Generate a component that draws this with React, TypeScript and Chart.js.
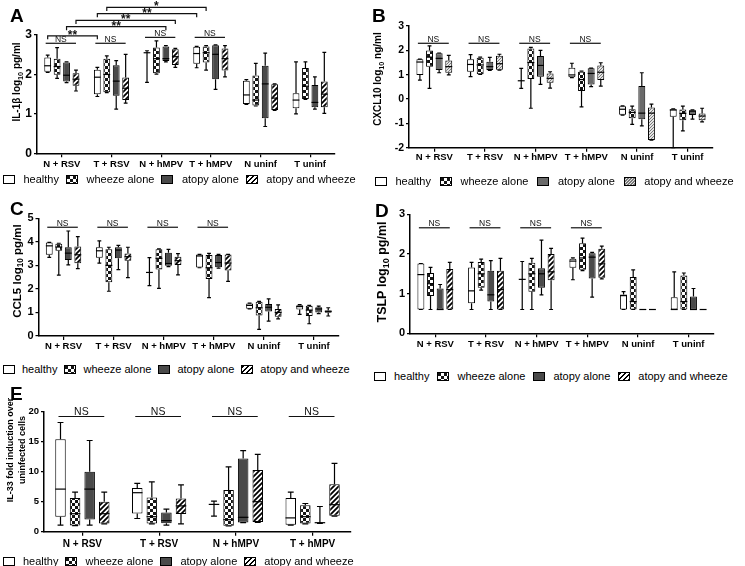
import React, { useEffect, useRef } from 'react';
import { Chart, registerables } from 'chart.js';
Chart.register(...registerables);

const FONT = "'Liberation Sans', Arial, Helvetica, sans-serif";
Chart.defaults.color = '#000';
Chart.defaults.font.family = FONT;

// ---------- categories / groups ----------
const groups = ['healthy', 'wheeze alone', 'atopy alone', 'atopy and wheeze'];
const catsSix = ['N + RSV', 'T + RSV', 'N + hMPV', 'T + hMPV', 'N uninf', 'T uninf'];
const catsFour = ['N + RSV', 'T + RSV', 'N + hMPV', 'T + hMPV'];

// each entry: [min, q1, median, q3, max]
// ---------- A: IL-1β ----------
const il1b_healthy = [[2.05, 2.07, 2.22, 2.43, 2.49], [1.44, 1.5, 1.93, 2.12, 2.18], [1.8, 2.55, 2.55, 2.55, 2.6], [2.17, 2.27, 2.53, 2.7, 2.71], [1.24, 1.25, 1.48, 1.84, 1.87], [1.0, 1.14, 1.35, 1.52, 2.32]];
const il1b_wheeze = [[1.9, 1.99, 2.2, 2.4, 2.68], [1.54, 1.55, 2.0, 2.4, 2.47], [2.01, 2.03, 2.4, 2.68, 2.85], [2.11, 2.3, 2.55, 2.71, 2.73], [1.2, 1.21, 1.35, 1.97, 2.28], [1.37, 1.38, 1.7, 2.16, 2.32]];
const il1b_atopy = [[1.79, 1.82, 1.98, 2.3, 2.32], [1.12, 1.46, 1.83, 2.23, 2.35], [2.32, 2.34, 2.4, 2.71, 2.73], [1.62, 1.88, 2.51, 2.74, 2.75], [0.68, 0.89, 1.76, 2.22, 2.54], [1.12, 1.17, 1.29, 1.73, 1.94]];
const il1b_aw = [[1.58, 1.71, 1.88, 2.03, 2.11], [1.27, 1.35, 1.65, 1.92, 2.51], [2.18, 2.24, 2.45, 2.64, 2.66], [1.94, 2.1, 2.4, 2.66, 2.73], [1.09, 1.1, 1.4, 1.75, 1.76], [1.01, 1.17, 1.5, 1.82, 2.56]];
const il1b_ns = [{ cat: 0, y: 2.79 }, { cat: 1, y: 2.79 }, { cat: 2, y: 2.94 }, { cat: 3, y: 2.94 }];
// [category, group] -> [category, group]
const il1b_brackets = [
  { a: [0, 0], b: [1, 0], y: 2.98, t: '**' },
  { a: [0, 2], b: [2, 2], y: 3.21, t: '**' },
  { a: [0, 3], b: [2, 3], y: 3.37, t: '**' },
  { a: [1, 0], b: [3, 0], y: 3.54, t: '**' },
  { a: [1, 1], b: [3, 1], y: 3.7, t: '*' },
];

// ---------- B: CXCL10 ----------
const cxcl_healthy = [[0.78, 0.99, 1.52, 1.63, 1.64], [0.92, 1.12, 1.42, 1.63, 1.82], [0.44, 0.75, 0.75, 0.75, 1.26], [0.88, 0.89, 0.99, 1.28, 1.47], [-0.66, -0.65, -0.42, -0.3, -0.28], [-2.0, -0.73, -0.45, -0.42, -0.4]];
const cxcl_wheeze = [[0.44, 1.33, 1.72, 1.99, 2.18], [1.01, 1.02, 1.4, 1.7, 1.72], [-0.38, 0.82, 1.5, 2.08, 2.12], [-0.32, 0.33, 0.8, 1.12, 1.15], [-1.04, -0.79, -0.55, -0.42, -0.29], [-1.31, -0.87, -0.59, -0.43, -0.29]];
const cxcl_atopy = [[1.08, 1.19, 1.67, 1.88, 1.89], [1.18, 1.19, 1.33, 1.53, 1.71], [0.6, 0.92, 1.38, 1.77, 2.0], [0.51, 0.6, 1.05, 1.26, 1.27], [-1.1, -0.83, -0.58, 0.53, 1.08], [-0.83, -0.66, -0.5, -0.46, -0.45]];
const cxcl_aw = [[0.99, 1.08, 1.33, 1.58, 1.79], [1.19, 1.2, 1.45, 1.78, 1.84], [0.45, 0.67, 0.85, 1.05, 1.12], [0.53, 0.78, 1.1, 1.38, 1.49], [-1.69, -1.68, -0.58, -0.35, -0.21], [-0.94, -0.87, -0.7, -0.59, -0.38]];
const cxcl_ns = [{ cat: 0, y: 2.29 }, { cat: 1, y: 2.29 }, { cat: 2, y: 2.29 }, { cat: 3, y: 2.29 }];

// ---------- C: CCL5 ----------
const ccl5_healthy = [[3.34, 3.45, 3.83, 3.97, 3.98], [3.1, 3.32, 3.62, 3.77, 4.04], [2.14, 2.7, 2.7, 2.7, 3.33], [2.9, 2.91, 3.4, 3.46, 3.47], [1.15, 1.16, 1.3, 1.38, 1.4], [0.92, 1.13, 1.25, 1.31, 1.33]];
const ccl5_wheeze = [[2.59, 3.62, 3.78, 3.92, 3.94], [1.9, 2.28, 3.0, 3.68, 3.77], [2.02, 2.83, 3.3, 3.68, 3.7], [1.63, 2.42, 2.9, 3.44, 3.51], [0.28, 0.87, 1.2, 1.45, 1.47], [0.52, 0.85, 1.1, 1.28, 1.3]];
const ccl5_atopy = [[3.02, 3.23, 3.52, 3.77, 4.46], [2.82, 3.3, 3.65, 3.77, 3.85], [2.95, 2.98, 3.08, 3.54, 3.68], [2.88, 2.92, 3.12, 3.44, 3.47], [0.63, 1.04, 1.22, 1.36, 1.58], [0.95, 1.0, 1.15, 1.22, 1.27]];
const ccl5_aw = [[2.86, 3.09, 3.45, 3.8, 4.22], [2.48, 3.2, 3.37, 3.5, 3.77], [2.6, 3.02, 3.2, 3.37, 3.5], [2.32, 2.78, 3.1, 3.46, 3.47], [0.73, 0.82, 1.0, 1.15, 1.32], [0.85, 0.99, 1.05, 1.08, 1.2]];
const ccl5_ns = [{ cat: 0, y: 4.62 }, { cat: 1, y: 4.62 }, { cat: 2, y: 4.62 }, { cat: 3, y: 4.62 }];

// ---------- D: TSLP ----------
const tslp_healthy = [[0.6, 0.6, 1.48, 1.76, 1.76], [0.6, 0.76, 1.07, 1.66, 1.79], [0.6, 1.36, 1.36, 1.36, 1.81], [1.35, 1.65, 1.82, 1.88, 1.9], [0.6, 0.6, 0.95, 0.98, 1.05], [0.6, 0.6, 0.6, 0.91, 1.55]];
const tslp_wheeze = [[0.6, 0.94, 1.25, 1.52, 1.66], [1.09, 1.15, 1.5, 1.8, 1.87], [0.6, 1.05, 1.5, 1.78, 1.89], [1.58, 1.6, 1.9, 2.27, 2.4], [0.6, 0.6, 0.8, 1.42, 1.6], [0.6, 0.6, 0.8, 1.46, 1.52]];
const tslp_atopy = [[0.6, 0.6, 0.6, 1.13, 1.23], [0.6, 0.8, 0.97, 1.58, 1.83], [0.97, 1.15, 1.5, 1.64, 2.35], [0.91, 1.38, 1.92, 2.02, 2.04], [0.6, 0.6, 0.6, 0.6, 0.6], [0.6, 0.6, 0.6, 0.93, 1.13]];
const tslp_aw = [[0.6, 0.6, 1.1, 1.62, 1.79], [0.6, 0.6, 1.1, 1.58, 1.89], [0.6, 1.34, 1.55, 2.0, 2.14], [1.37, 1.4, 1.75, 2.13, 2.2], [0.6, 0.6, 0.6, 0.6, 0.6], [0.6, 0.6, 0.6, 0.6, 0.6]];
const tslp_ns = [{ cat: 0, y: 2.66 }, { cat: 1, y: 2.66 }, { cat: 2, y: 2.66 }, { cat: 3, y: 2.66 }];

// ---------- E: IL-33 ----------
const il33_healthy = [[1.1, 2.5, 7.1, 15.4, 18.2], [2.2, 3.05, 6.5, 7.3, 8.05], [2.6, 4.55, 4.55, 4.6, 5.1], [1.1, 1.15, 2.3, 5.6, 6.6]];
const il33_wheeze = [[1.0, 1.05, 3.0, 5.6, 6.6], [1.3, 1.35, 2.5, 5.7, 8.3], [0.95, 1.0, 2.0, 6.95, 10.8], [1.3, 1.35, 2.5, 4.4, 4.7]];
const il33_atopy = [[1.1, 2.05, 7.1, 10.0, 15.2], [1.1, 1.4, 1.85, 3.2, 3.75], [1.5, 1.55, 2.4, 12.2, 13.5], [1.4, 1.45, 1.5, 1.5, 4.2]];
const il33_aw = [[1.3, 1.35, 3.0, 5.0, 6.6], [1.3, 2.95, 4.3, 5.55, 7.8], [1.55, 1.6, 5.0, 10.3, 12.9], [2.6, 2.65, 4.5, 7.9, 11.4]];
const il33_ns = [{ cat: 0, y: 19.2 }, { cat: 1, y: 19.2 }, { cat: 2, y: 19.2 }, { cat: 3, y: 19.2 }];

// ---------- layout ----------
const XH = 26; // x-axis box height

type Part = { t: string; sub?: boolean };
interface Panel {
  key: string;
  letter: string;
  letterPos: [number, number];
  cats: string[];
  series: number[][][];
  yMin: number; yMax: number; yStep: number;
  ns: { cat: number; y: number }[];
  nsFont: number;
  brackets: { a: number[]; b: number[]; y: number; t: string }[];
  title: { lines: Part[][]; cx: number[]; cy: number; size: number };
  box: { x0: number; y0: number; w: number; left: number; top: number; right: number; bottom: number };
  legend: { x: number; y: number; gap1: number; gap2: number };
  yFont: number; xFont: number; xPad: number;
  light: boolean;
}

const panels: Panel[] = [
  {
    key: 'A', letter: 'A', letterPos: [10, 8.3], cats: catsSix,
    series: [il1b_healthy, il1b_wheeze, il1b_atopy, il1b_aw], yMin: 0, yMax: 3, yStep: 1,
    ns: il1b_ns, nsFont: 8.5, brackets: il1b_brackets,
    title: { lines: [[{ t: 'IL-1β log' }, { t: '10', sub: true }, { t: ' pg/ml' }]], cx: [17.5], cy: 82, size: 10 },
    box: { x0: 0, y0: 0, w: 370, left: 37, top: 35, right: 335, bottom: 153.3 },
    legend: { x: 3, y: 179, gap1: 8.5, gap2: 7 },
    yFont: 12, xFont: 9.5, xPad: 1, light: false,
  },
  {
    key: 'B', letter: 'B', letterPos: [372, 8.3], cats: catsSix,
    series: [cxcl_healthy, cxcl_wheeze, cxcl_atopy, cxcl_aw], yMin: -2, yMax: 3, yStep: 1,
    ns: cxcl_ns, nsFont: 8.5, brackets: [],
    title: { lines: [[{ t: 'CXCL10 log' }, { t: '10', sub: true }, { t: ' ng/ml' }]], cx: [378.5], cy: 79, size: 10 },
    box: { x0: 370, y0: 0, w: 375, left: 409, top: 26, right: 713, bottom: 147.7 },
    legend: { x: 375, y: 181, gap1: 8.5, gap2: 9 },
    yFont: 10.5, xFont: 9.5, xPad: 0, light: true,
  },
  {
    key: 'C', letter: 'C', letterPos: [10, 201.7], cats: catsSix,
    series: [ccl5_healthy, ccl5_wheeze, ccl5_atopy, ccl5_aw], yMin: 0, yMax: 5, yStep: 1,
    ns: ccl5_ns, nsFont: 8.5, brackets: [],
    title: { lines: [[{ t: 'CCL5 log' }, { t: '10', sub: true }, { t: ' pg/ml' }]], cx: [17.5], cy: 271, size: 11.5 },
    box: { x0: 0, y0: 190, w: 370, left: 38.5, top: 218.3, right: 339, bottom: 336 },
    legend: { x: 3, y: 369, gap1: 7, gap2: 7 },
    yFont: 11, xFont: 9.5, xPad: 1, light: false,
  },
  {
    key: 'D', letter: 'D', letterPos: [375, 203.3], cats: catsSix,
    series: [tslp_healthy, tslp_wheeze, tslp_atopy, tslp_aw], yMin: 0, yMax: 3, yStep: 1,
    ns: tslp_ns, nsFont: 8.5, brackets: [],
    title: { lines: [[{ t: 'TSLP log' }, { t: '10', sub: true }, { t: ' pg/ml' }]], cx: [383], cy: 272, size: 12.5 },
    box: { x0: 370, y0: 190, w: 375, left: 410, top: 214.3, right: 714, bottom: 333.3 },
    legend: { x: 374, y: 376, gap1: 8, gap2: 8 },
    yFont: 11, xFont: 9.5, xPad: 1, light: false,
  },
  {
    key: 'E', letter: 'E', letterPos: [10, 386.7], cats: catsFour,
    series: [il33_healthy, il33_wheeze, il33_atopy, il33_aw], yMin: 0, yMax: 20, yStep: 5,
    ns: il33_ns, nsFont: 10.5, brackets: [],
    title: { lines: [[{ t: 'IL-33 fold induction over' }], [{ t: 'uninfected cells' }]], cx: [11, 22.5], cy: 450, size: 9 },
    box: { x0: 0, y0: 380, w: 370, left: 44, top: 411.7, right: 351, bottom: 531.7 },
    legend: { x: 3, y: 561, gap1: 8, gap2: 7 },
    yFont: 9.5, xFont: 10, xPad: 3, light: false,
  },
];

// ---------- fills ----------
function makeChecker(): any {
  const c = document.createElement('canvas');
  c.width = 6; c.height = 6;
  const g = c.getContext('2d')!;
  g.fillStyle = '#151515'; g.fillRect(0, 0, 6, 6);
  g.fillStyle = '#ffffff'; g.fillRect(0, 0, 3, 3); g.fillRect(3, 3, 3, 3);
  return g.createPattern(c, 'repeat');
}
function makeHatch(size: number, lw: number, fg: string, bg: string): any {
  const c = document.createElement('canvas');
  c.width = size; c.height = size;
  const g = c.getContext('2d')!;
  g.fillStyle = bg; g.fillRect(0, 0, size, size);
  g.strokeStyle = fg; g.lineWidth = lw;
  g.beginPath();
  g.moveTo(-1, size + 1); g.lineTo(size + 1, -1);
  g.moveTo(-2, 2); g.lineTo(2, -2);
  g.moveTo(size - 2, size + 2); g.lineTo(size + 2, size - 2);
  g.stroke();
  return g.createPattern(c, 'repeat');
}
const cssFills = {
  std: [
    '#ffffff',
    'repeating-conic-gradient(#ffffff 0% 25%, #151515 0% 50%) 0 0 / 6px 6px',
    '#4a4a4a',
    'repeating-linear-gradient(135deg, #000 0 1.8px, #fff 1.8px 3.55px)',
  ],
  light: [
    '#ffffff',
    'repeating-conic-gradient(#ffffff 0% 25%, #151515 0% 50%) 0 0 / 6px 6px',
    '#6a6a6a',
    'repeating-linear-gradient(135deg, #7a7a7a 0 1px, #e4e4e4 1px 2.12px)',
  ],
};

// ---------- plugins ----------
const boxPlugin = {
  id: 'boxWhisker',
  afterDatasetsDraw(chart: any) {
    const ctx = chart.ctx;
    const ys = chart.scales.y;
    chart.data.datasets.forEach((ds: any, di: number) => {
      const meta = chart.getDatasetMeta(di);
      meta.data.forEach((bar: any, i: number) => {
        const s = ds.stats[i];
        if (!s) return;
        const { x, width } = bar.getProps(['x', 'width'], true);
        const [mn, q1, md, q3, mx] = s.map((v: number) => ys.getPixelForValue(v));
        const cw = width * 0.28;
        ctx.save();
        ctx.strokeStyle = '#000';
        ctx.lineWidth = 1.2;
        ctx.beginPath();
        ctx.moveTo(x, q1); ctx.lineTo(x, mn);
        ctx.moveTo(x, q3); ctx.lineTo(x, mx);
        ctx.moveTo(x - cw, mn); ctx.lineTo(x + cw, mn);
        ctx.moveTo(x - cw, mx); ctx.lineTo(x + cw, mx);
        ctx.stroke();
        ctx.beginPath();
        ctx.moveTo(x - width / 2, md); ctx.lineTo(x + width / 2, md);
        ctx.stroke();
        ctx.restore();
      });
    });
  },
};

function makeSigPlugin(p: Panel) {
  return {
    id: 'sig' + p.key,
    afterDraw(chart: any) {
      const ctx = chart.ctx;
      const ys = chart.scales.y;
      const px = (cat: number, grp: number) => chart.getDatasetMeta(grp).data[cat].x;
      ctx.save();
      ctx.strokeStyle = '#111';
      ctx.fillStyle = '#111';
      ctx.lineWidth = 1.2;
      ctx.textAlign = 'center';
      ctx.textBaseline = 'alphabetic';
      p.ns.forEach((n) => {
        const x1 = px(n.cat, 0) - 2;
        const x2 = px(n.cat, 3);
        const y = ys.getPixelForValue(n.y);
        ctx.beginPath(); ctx.moveTo(x1, y); ctx.lineTo(x2, y); ctx.stroke();
        ctx.font = `${p.nsFont}px ${FONT}`;
        ctx.fillText('NS', (x1 + x2) / 2, y - 1.5);
      });
      p.brackets.forEach((br) => {
        const a = px(br.a[0], br.a[1]);
        const b = px(br.b[0], br.b[1]);
        const y = ys.getPixelForValue(br.y);
        ctx.beginPath();
        ctx.moveTo(a, y + 3.5); ctx.lineTo(a, y); ctx.lineTo(b, y); ctx.lineTo(b, y + 3.5);
        ctx.stroke();
        ctx.font = `bold 12px ${FONT}`;
        ctx.fillText(br.t, (a + b) / 2, y + 3);
      });
      ctx.restore();
    },
  };
}

function makeTitlePlugin(p: Panel) {
  return {
    id: 'ytitle' + p.key,
    afterDraw(chart: any) {
      const ctx = chart.ctx;
      const size = p.title.size;
      const sub = size * 0.72;
      p.title.lines.forEach((parts, li) => {
        ctx.save();
        ctx.translate(p.title.cx[li] - p.box.x0, p.title.cy - p.box.y0);
        ctx.rotate(-Math.PI / 2);
        ctx.fillStyle = '#000';
        ctx.textBaseline = 'middle';
        ctx.textAlign = 'left';
        let total = 0;
        parts.forEach((pt) => {
          ctx.font = `bold ${pt.sub ? sub : size}px ${FONT}`;
          total += ctx.measureText(pt.t).width;
        });
        let x = -total / 2;
        parts.forEach((pt) => {
          ctx.font = `bold ${pt.sub ? sub : size}px ${FONT}`;
          ctx.fillText(pt.t, x, pt.sub ? size * 0.32 : 0);
          x += ctx.measureText(pt.t).width;
        });
        ctx.restore();
      });
    },
  };
}

function geom(b: Panel['box']) {
  const rawH = b.bottom + XH - b.y0;
  const height = Math.ceil(rawH);
  return {
    width: b.w,
    height,
    padTop: b.top - b.y0,
    padRight: b.x0 + b.w - b.right,
    padBottom: height - rawH,
    yw: b.left - b.x0,
  };
}

function PanelChart({ p }: { p: Panel }) {
  const ref = useRef<HTMLCanvasElement>(null);
  const g = geom(p.box);
  useEffect(() => {
    const fills = p.light
      ? ['#ffffff', makeChecker(), '#6a6a6a', makeHatch(3, 1, '#7a7a7a', '#e4e4e4')]
      : ['#ffffff', makeChecker(), '#4a4a4a', makeHatch(5, 1.8, '#000', '#fff')];
    const axisGrid = { display: true, drawOnChartArea: false, drawTicks: true, tickLength: 4, offset: false, color: '#000', lineWidth: 1.2 };
    const chart = new Chart(ref.current!, {
      type: 'bar',
      data: {
        labels: p.cats,
        datasets: p.series.map((s, gi) => ({
          label: groups[gi],
          data: s.map((v) => [v[1], v[3]]),
          stats: s,
          backgroundColor: fills[gi],
          borderColor: '#000',
          borderWidth: 1,
          borderSkipped: false,
          categoryPercentage: 0.76,
          barPercentage: 0.72,
        })) as any,
      },
      options: {
        responsive: false,
        maintainAspectRatio: false,
        animation: false,
        layout: { padding: { left: 0, top: g.padTop, right: g.padRight, bottom: g.padBottom } },
        plugins: {
          legend: { display: false },
          tooltip: { enabled: false },
        },
        scales: {
          x: {
            grid: axisGrid,
            border: { color: '#000', width: 1.5 },
            ticks: { font: { size: p.xFont, weight: 'bold', family: FONT }, color: '#000', padding: p.xPad, maxRotation: 0, autoSkip: false },
            afterFit: (s: any) => { s.height = XH; },
          },
          y: {
            min: p.yMin,
            max: p.yMax,
            grid: { ...axisGrid, tickLength: 3 },
            border: { color: '#000', width: 1.5 },
            ticks: { stepSize: p.yStep, font: { size: p.yFont, weight: 'bold', family: FONT }, color: '#000', padding: 2 },
            afterFit: (s: any) => { s.width = g.yw; },
          },
        },
      } as any,
      plugins: [boxPlugin, makeSigPlugin(p), makeTitlePlugin(p)],
    });
    return () => chart.destroy();
  }, []);
  return (
    <canvas
      ref={ref}
      width={g.width}
      height={g.height}
      style={{ position: 'absolute', left: p.box.x0, top: p.box.y0, width: g.width, height: g.height }}
    />
  );
}

function Legend({ p }: { p: Panel }) {
  const fills = p.light ? cssFills.light : cssFills.std;
  const L = p.legend;
  return (
    <div
      style={{
        position: 'absolute', left: L.x, top: L.y - 7, height: 14, display: 'flex', alignItems: 'center',
        whiteSpace: 'nowrap', font: `11px/14px ${FONT}`, color: '#000',
      }}
    >
      {groups.map((gname, gi) => (
        <React.Fragment key={gname}>
          <span
            style={{
              display: 'inline-block', width: 12, height: 9, boxSizing: 'border-box', border: '1px solid #000',
              background: fills[gi], marginRight: L.gap1, flex: 'none',
            }}
          />
          <span style={{ marginRight: L.gap2 }}>{gname}</span>
        </React.Fragment>
      ))}
    </div>
  );
}

export default function App() {
  return (
    <div style={{ position: 'absolute', left: 0, top: 0, width: 745, height: 566, overflow: 'hidden', background: '#fff', fontFamily: FONT }}>
      {panels.map((p) => (
        <PanelChart key={p.key} p={p} />
      ))}
      {panels.map((p) => (
        <Legend key={'lg' + p.key} p={p} />
      ))}
      {panels.map((p) => (
        <div
          key={'l' + p.key}
          style={{ position: 'absolute', left: p.letterPos[0], top: p.letterPos[1] - 2.5, font: `bold 19px/19px ${FONT}`, color: '#000' }}
        >
          {p.letter}
        </div>
      ))}
    </div>
  );
}
